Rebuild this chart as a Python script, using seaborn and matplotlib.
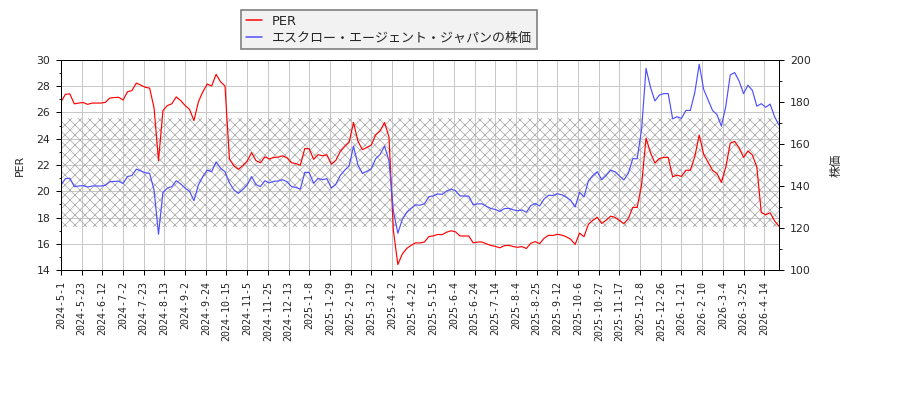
import numpy as np
import pandas as pd
import matplotlib
matplotlib.use("Agg")
import matplotlib.pyplot as plt
from matplotlib.ticker import MultipleLocator
from matplotlib.lines import Line2D
import seaborn as sns

# x tick labels, one every 14 trading days
tick_labels = [
    "2024-5-1", "2024-5-23", "2024-6-12", "2024-7-2", "2024-7-23", "2024-8-13",
    "2024-9-2", "2024-9-24", "2024-10-15", "2024-11-5", "2024-11-25", "2024-12-13",
    "2025-1-8", "2025-1-29", "2025-2-19", "2025-3-12", "2025-4-2", "2025-4-22",
    "2025-5-15", "2025-6-4", "2025-6-24", "2025-7-14", "2025-8-4", "2025-8-25",
    "2025-9-12", "2025-10-6", "2025-10-27", "2025-11-17", "2025-12-8", "2025-12-26",
    "2026-1-21", "2026-2-10", "2026-3-4", "2026-3-25", "2026-4-14",
]

# PER, sampled every 3 trading days
per = [
    26.81, 27.39, 27.42, 26.66, 26.72, 26.76, 26.62, 26.72, 26.72, 26.72, 26.77, 27.10, 27.14, 27.16,
    26.95, 27.58, 27.67, 28.24, 28.09, 27.92, 27.86, 26.34, 22.33, 26.15, 26.53, 26.66, 27.19, 26.91,
    26.53, 26.24, 25.38, 26.81, 27.58, 28.17, 28.02, 28.91, 28.34, 28.02, 22.46, 21.94, 21.67, 21.95,
    22.30, 22.94, 22.33, 22.17, 22.62, 22.46, 22.57, 22.60, 22.70, 22.54, 22.17, 22.11, 21.98, 23.25,
    23.24, 22.43, 22.79, 22.70, 22.78, 22.06, 22.35, 23.02, 23.41, 23.73, 25.24, 23.81, 23.17, 23.33,
    23.52, 24.29, 24.60, 25.24, 24.13, 17.00, 14.42, 15.21, 15.64, 15.88, 16.07, 16.06, 16.13, 16.55,
    16.60, 16.71, 16.69, 16.88, 16.99, 16.91, 16.60, 16.59, 16.59, 16.07, 16.13, 16.13, 15.99, 15.87,
    15.80, 15.69, 15.85, 15.88, 15.79, 15.73, 15.78, 15.64, 16.04, 16.16, 16.01, 16.42, 16.64, 16.63,
    16.72, 16.66, 16.53, 16.34, 15.95, 16.81, 16.54, 17.48, 17.79, 18.01, 17.55, 17.79, 18.10, 18.01,
    17.77, 17.53, 17.91, 18.77, 18.77, 20.49, 24.05, 22.94, 22.15, 22.49, 22.58, 22.58, 21.10, 21.23,
    21.13, 21.60, 21.60, 22.64, 24.29, 22.82, 22.21, 21.60, 21.35, 20.67, 21.84, 23.67, 23.80, 23.31,
    22.58, 23.07, 22.76, 21.84, 18.38, 18.21, 18.36, 17.74, 17.33,
]

# share price, same sampling
price = [
    140.5, 143.5, 143.7, 139.7, 140.0, 140.2, 139.5, 140.0, 140.0, 140.0, 140.3, 142.0, 142.2, 142.3,
    141.2, 144.5, 145.0, 148.0, 147.2, 146.3, 146.0, 138.0, 117.0, 137.0, 139.0, 139.7, 142.5, 141.0,
    139.0, 137.5, 133.0, 140.5, 144.5, 147.6, 146.8, 151.5, 148.5, 146.8, 141.5, 138.2, 136.5, 138.3,
    140.5, 144.5, 140.7, 139.7, 142.5, 141.5, 142.2, 142.4, 143.0, 142.0, 139.7, 139.3, 138.5, 146.5,
    146.4, 141.3, 143.6, 143.0, 143.5, 139.0, 140.8, 145.0, 147.5, 149.5, 159.0, 150.0, 146.0, 147.0,
    148.2, 153.0, 155.0, 159.0, 152.0, 128.0, 117.5, 124.0, 127.5, 129.4, 131.0, 130.9, 131.5, 134.9,
    135.3, 136.2, 136.0, 137.6, 138.5, 137.8, 135.3, 135.2, 135.2, 131.0, 131.5, 131.5, 130.3, 129.3,
    128.8, 127.9, 129.2, 129.4, 128.7, 128.2, 128.6, 127.5, 130.7, 131.7, 130.5, 133.8, 135.6, 135.5,
    136.3, 135.8, 134.7, 133.2, 130.0, 137.0, 134.8, 142.5, 145.0, 146.8, 143.0, 145.0, 147.5, 146.8,
    144.8, 142.9, 146.0, 153.0, 153.0, 167.0, 196.0, 187.0, 180.5, 183.3, 184.0, 184.0, 172.0, 173.0,
    172.2, 176.0, 176.0, 184.5, 198.0, 186.0, 181.0, 176.0, 174.0, 168.5, 178.0, 192.9, 194.0, 190.0,
    184.0, 188.0, 185.5, 178.0, 179.2, 177.5, 179.0, 173.0, 169.0,
]

per_band = (17.3, 25.6)
STEP = 3
TICK_EVERY = 14

sns.set_style("ticks")
plt.rcParams["font.family"] = ["DejaVu Sans", "Noto Sans CJK JP"]
plt.rcParams["hatch.linewidth"] = 0.5

df = pd.DataFrame({"day": np.arange(len(per)) * STEP, "PER": per, "price": price})

fig = plt.figure(figsize=(7.5, 10 / 3), dpi=120)
ax = fig.add_axes([61 / 900, 130 / 400, 718 / 900, 210 / 400])

# hatched PER band
ax.axhspan(*per_band, facecolor="none", edgecolor="#b0b0b0", hatch="xxxx", linewidth=0, zorder=1)

sns.lineplot(data=df, x="day", y="PER", ax=ax, color="red", linewidth=0.7, legend=False, zorder=3)
ax.set_ylim(14, 30)
ax.set_xlim(df["day"].min(), df["day"].max())
ax.yaxis.set_major_locator(MultipleLocator(2))
ax.yaxis.set_minor_locator(MultipleLocator(1))
ax.set_xticks(np.arange(len(tick_labels)) * TICK_EVERY)
ax.set_xticklabels(tick_labels, rotation=90, fontsize=6, family="DejaVu Sans Mono")
ax.grid(True, color="#c8c8c8", linewidth=0.6)
ax.set_axisbelow(True)
ax.set_xlabel("")
ax.set_ylabel("PER", fontsize=6.5)
ax.yaxis.set_label_coords(-0.05, 0.5)

ax2 = ax.twinx()
sns.lineplot(data=df, x="day", y="price", ax=ax2, color="#4d4dff", linewidth=0.7, legend=False)
ax2.set_ylim(100, 200)
ax2.yaxis.set_major_locator(MultipleLocator(20))
ax2.yaxis.set_minor_locator(MultipleLocator(10))
ax2.set_ylabel("株価", fontsize=7)
ax2.yaxis.set_label_coords(1.071, 0.5)

for a in (ax, ax2):
    a.tick_params(which="major", length=3, width=0.6, labelsize=6.5, color="black")
    a.tick_params(which="minor", length=1.5, width=0.6)
    for s in a.spines.values():
        s.set_visible(True)
        s.set_linewidth(0.6)
        s.set_color("black")
ax.tick_params(axis="x", labelsize=6)

handles = [Line2D([], [], color="red", linewidth=0.9),
           Line2D([], [], color="#4d4dff", linewidth=0.9)]
fig.legend(handles, ["PER", "エスクロー・エージェント・ジャパンの株価"],
           loc="upper left", bbox_to_anchor=(241 / 900, 1 - 10 / 400), borderaxespad=0,
           fontsize=7.8, frameon=True, fancybox=False, facecolor="#f2f2f2",
           edgecolor="#808080", framealpha=1, handlelength=1.25, handletextpad=0.8,
           borderpad=0.35, labelspacing=0.3)

fig.savefig("out.png", dpi=120)
